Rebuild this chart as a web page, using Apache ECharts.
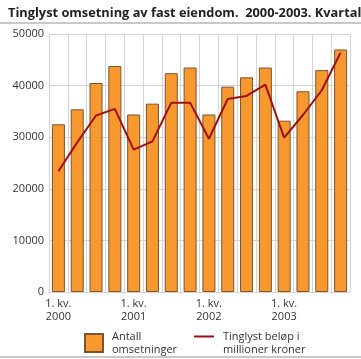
<!DOCTYPE html>
<html><head><meta charset="utf-8">
<script src="https://cdn.jsdelivr.net/npm/echarts@6/dist/echarts.min.js"></script>
<style>html,body{margin:0;padding:0;background:#fff}#c{width:361px;height:359px}</style>
</head><body><div id="c"></div>
<script>
const categories = [
  "1. kv.\n2000","2. kv.\n2000","3. kv.\n2000","4. kv.\n2000",
  "1. kv.\n2001","2. kv.\n2001","3. kv.\n2001","4. kv.\n2001",
  "1. kv.\n2002","2. kv.\n2002","3. kv.\n2002","4. kv.\n2002",
  "1. kv.\n2003","2. kv.\n2003","3. kv.\n2003","4. kv.\n2003"
];
const antallOmsetninger = [32500,35400,40500,43800,34400,36500,42400,43500,34400,39800,41600,43500,33200,38900,43000,47000];
const tinglystBelop = [23400,29000,34200,35500,27600,29200,36700,36700,29700,37400,38000,40200,29900,34300,39100,46400];
const yTicks = [0,10000,20000,30000,40000,50000];

const chart = echarts.init(document.getElementById('c'));
const font = 'Open Sans, DejaVu Sans, sans-serif';
chart.setOption({
  animation: false,
  textStyle: {fontFamily: font},
  title: {
    text: 'Tinglyst omsetning av fast eiendom.  2000-2003. Kvartal',
    left: 3, top: 2,
    textStyle: {fontSize: 12.8, fontWeight: 'bold', color: '#222', fontFamily: font}
  },
  graphic: [
    {type: 'rect', shape: {x: 0, y: 22, width: 361, height: 2}, style: {fill: '#c8c8c8'}},
    {type: 'rect', shape: {x: 0, y: 356, width: 361, height: 2}, style: {fill: '#c8c8c8'}}
  ],
  grid: {left: 49, right: 11, top: 34, bottom: 67},
  legend: [
    {
      data: [{name: 'Antall\nomsetninger', icon: 'rect'}],
      left: 79, top: 325, itemWidth: 18, itemHeight: 18, itemGap: 0,
      textStyle: {fontSize: 11, color: '#333', lineHeight: 13, padding: [0,0,0,4]}
    },
    {
      data: [{name: 'Tinglyst beløp i\nmillioner kroner',
        icon: 'path://M0,0H0.05V0.05H0Z M0,5.5H20V7.5H0Z M0,25.95H0.05V26H0Z'}],
      left: 189, top: 325, itemWidth: 20, itemHeight: 26, itemGap: 0,
      textStyle: {fontSize: 11, color: '#333', lineHeight: 13, padding: [0,0,0,4]}
    }
  ],
  xAxis: {
    type: 'category', data: categories, boundaryGap: true,
    axisLine: {show: false},
    axisTick: {show: false},
    axisLabel: {interval: 3, color: '#333', fontSize: 11, lineHeight: 13, margin: 5},
    splitLine: {show: true, interval: 0, lineStyle: {color: '#d4d4d4', width: 1}}
  },
  yAxis: {
    type: 'value', min: 0, max: 50000, interval: 10000,
    axisLine: {show: true, lineStyle: {color: '#d4d4d4'}},
    axisTick: {show: false},
    axisLabel: {color: '#333', fontSize: 11, margin: 5,
      formatter: v => yTicks.includes(v) ? String(v) : ''},
    splitLine: {show: true, lineStyle: {color: '#d4d4d4', width: 1}}
  },
  series: [
    {
      name: 'Antall\nomsetninger', type: 'bar', data: antallOmsetninger,
      barWidth: 13,
      itemStyle: {color: '#F7992F', borderColor: '#7a5530', borderWidth: 1}
    },
    {
      name: 'Tinglyst beløp i\nmillioner kroner', type: 'line', data: tinglystBelop,
      symbol: 'none', lineStyle: {color: '#a0100c', width: 2},
      itemStyle: {color: '#a0100c'}
    }
  ]
});
</script></body></html>
